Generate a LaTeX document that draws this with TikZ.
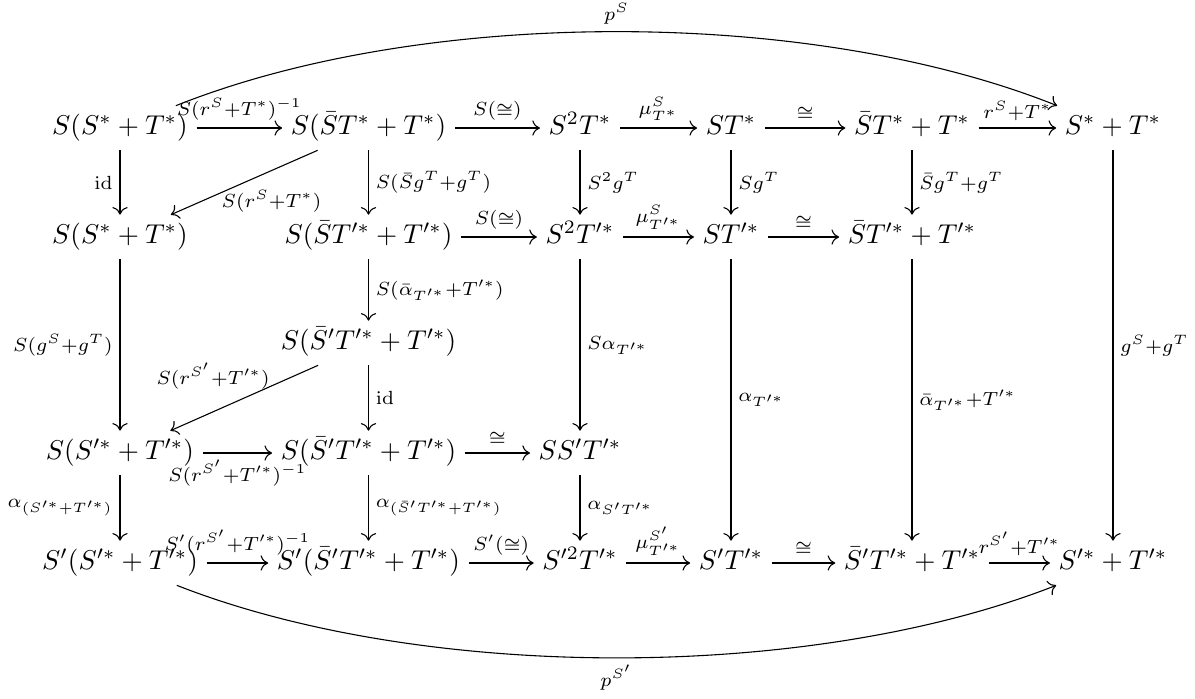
\documentclass[tikz,border=0pt]{standalone}
\usepackage{amsmath,amssymb}
\usetikzlibrary{arrows.meta}
\begin{document}
\begin{tikzpicture}[x=0.3676pt,y=-0.3676pt,
  obj/.style={inner sep=3pt, text height=7.5pt, text depth=2.5pt,
    execute at begin node=$, execute at end node=$},
  lab/.style={inner sep=2.5pt,
    execute at begin node=$\scriptstyle, execute at end node=$},
  ar/.style={-{Computer Modern Rightarrow[length=2.8pt,width=5.6pt]}, line width=0.4pt},
]
\useasboundingbox (0,0) rectangle (1195,698);
% row 1
\node[obj] (A1) at (120,128) {S(S^*+T^*)};
\node[obj] (A2) at (368.5,128) {S(\bar S T^*+T^*)};
\node[obj] (A3) at (580,128) {S^2T^*};
\node[obj] (A4) at (731,128) {ST^*};
\node[obj] (A5) at (912,128) {\bar S T^*+T^*};
\node[obj] (A6) at (1113,128) {S^*+T^*};
% row 2
\node[obj] (B1) at (120,237) {S(S^*+T^*)};
\node[obj] (B2) at (368.5,237) {S(\bar S T'^*+T'^*)};
\node[obj] (B3) at (580,237) {S^2T'^*};
\node[obj] (B4) at (731,237) {ST'^*};
\node[obj] (B5) at (912,237) {\bar S T'^*+T'^*};
% row 3
\node[obj] (C2) at (368.5,343) {S(\bar S'T'^*+T'^*)};
% row 4
\node[obj] (D1) at (120,453) {S(S'^*+T'^*)};
\node[obj] (D2) at (368.5,453) {S(\bar S'T'^*+T'^*)};
\node[obj] (D3) at (580,453) {SS'T'^*};
% row 5
\node[obj] (E1) at (120,563) {S'(S'^*+T'^*)};
\node[obj] (E2) at (368.5,563) {S'(\bar S'T'^*+T'^*)};
\node[obj] (E3) at (580,563) {S'^2T'^*};
\node[obj] (E4) at (731,563) {S'T'^*};
\node[obj] (E5) at (912,563) {\bar S'T'^*+T'^*};
\node[obj] (E6) at (1113,563) {S'^*+T'^*};

% row 1 horizontals
\draw[ar] (A1) -- node[lab,auto] {S(r^S+T^*)^{-1}} (A2);
\draw[ar] (A2) -- node[lab,auto] {S(\cong)} (A3);
\draw[ar] (A3) -- node[lab,auto] {\mu^S_{T^*}} (A4);
\draw[ar] (A4) -- node[lab,auto] {\cong} (A5);
\draw[ar] (A5) -- node[lab,auto] {r^S+T^*} (A6);
% row 2 horizontals
\draw[ar] (B2) -- node[lab,auto] {S(\cong)} (B3);
\draw[ar] (B3) -- node[lab,auto] {\mu^S_{T'^*}} (B4);
\draw[ar] (B4) -- node[lab,auto] {\cong} (B5);
% row 4 horizontals
\draw[ar] (D1) -- node[lab,auto,swap] {S(r^{S'}+T'^*)^{-1}} (D2);
\draw[ar] (D2) -- node[lab,auto] {\cong} (D3);
% row 5 horizontals
\draw[ar] (E1) -- node[lab,auto] {S'(r^{S'}+T'^*)^{-1}} (E2);
\draw[ar] (E2) -- node[lab,auto] {S'(\cong)} (E3);
\draw[ar] (E3) -- node[lab,auto] {\mu^{S'}_{T'^*}} (E4);
\draw[ar] (E4) -- node[lab,auto] {\cong} (E5);
\draw[ar] (E5) -- node[lab,auto] {r^{S'}+T'^*} (E6);
% verticals
\draw[ar] (A1) -- node[lab,auto,swap] {\mathrm{id}} (B1);
\draw[ar] (A2) -- node[lab,auto] {S(\bar S g^T+g^T)} (B2);
\draw[ar] (A3) -- node[lab,auto] {S^2g^T} (B3);
\draw[ar] (A4) -- node[lab,auto] {Sg^T} (B4);
\draw[ar] (A5) -- node[lab,auto] {\bar S g^T+g^T} (B5);
\draw[ar] (A6) -- node[lab,auto] {g^S+g^T} (E6);
\draw[ar] (B1) -- node[lab,auto,swap] {S(g^S+g^T)} (D1);
\draw[ar] (B2) -- node[lab,auto] {S(\bar\alpha_{T'^*}+T'^*)} (C2);
\draw[ar] (B3) -- node[lab,auto] {S\alpha_{T'^*}} (D3);
\draw[ar] (B4) -- node[lab,auto] {\alpha_{T'^*}} (E4);
\draw[ar] (B5) -- node[lab,auto] {\bar\alpha_{T'^*}+T'^*} (E5);
\draw[ar] (C2) -- node[lab,auto] {\mathrm{id}} (D2);
\draw[ar] (D1) -- node[lab,auto,swap] {\alpha_{(S'^*+T'^*)}} (E1);
\draw[ar] (D2) -- node[lab,auto] {\alpha_{(\bar S'T'^*+T'^*)}} (E2);
\draw[ar] (D3) -- node[lab,auto] {\alpha_{S'T'^*}} (E3);
% diagonals
\draw[ar] (A2) -- node[lab,auto,xshift=-11pt] {S(r^S+T^*)} (B1);
\draw[ar] (C2) -- node[lab,auto,swap,xshift=12pt,yshift=0.5pt] {S(r^{S'}+T'^*)} (D1);
% curves
\draw[ar] (A1) .. controls (423,7) and (810,7) .. (A6) node[lab,pos=0.5,auto] {p^S};
\draw[ar] (E1) .. controls (423,682) and (810,682) .. (E6) node[lab,pos=0.5,auto,swap] {p^{S'}};
\end{tikzpicture}
\end{document}
